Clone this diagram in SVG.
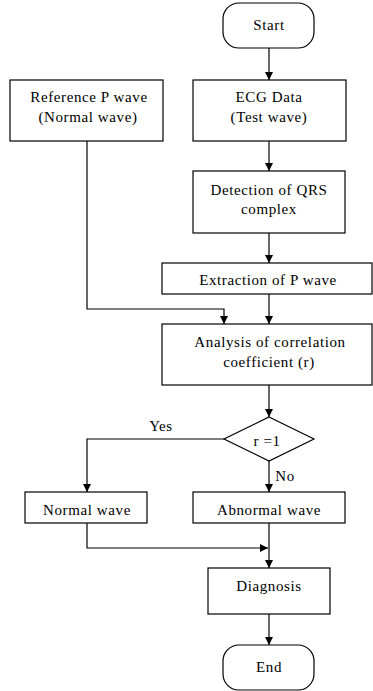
<svg xmlns="http://www.w3.org/2000/svg" width="373" height="691" viewBox="0 0 373 691">
<style>
.box{fill:#fff;stroke:#000;stroke-width:1.2}
.t{font-family:'Liberation Serif','DejaVu Serif',serif;font-size:15px;fill:#000;text-anchor:middle;letter-spacing:0.6px}
.c{fill:none;stroke:#000;stroke-width:1.2}
</style>
<defs>
<marker id="ah" viewBox="0 0 10 10" refX="10" refY="5" markerWidth="8" markerHeight="8" markerUnits="userSpaceOnUse" orient="auto">
<path d="M0,0 L10,5 L0,10 z" fill="#000"/>
</marker>
</defs>
<rect width="373" height="691" fill="#fff"/>
<g id="connectors">
<path class="c" d="M269,48 V80" marker-end="url(#ah)"/>
<path class="c" d="M269,141 V171" marker-end="url(#ah)"/>
<path class="c" d="M269,233 V263" marker-end="url(#ah)"/>
<path class="c" d="M269,294 V324" marker-end="url(#ah)"/>
<path class="c" d="M87,141 V309 H224 V324" marker-end="url(#ah)"/>
<path class="c" d="M269,385 V417" marker-end="url(#ah)"/>
<path class="c" d="M224,439 H87 V492" marker-end="url(#ah)"/>
<path class="c" d="M269,461 V492" marker-end="url(#ah)"/>
<path class="c" d="M87,523 V548 H268" marker-end="url(#ah)"/>
<path class="c" d="M269,523 V568" marker-end="url(#ah)"/>
<path class="c" d="M269,614 V645" marker-end="url(#ah)"/>
<text class="t" x="161" y="431">Yes</text>
<text class="t" x="285" y="481">No</text>
</g>
<g id="start">
<rect class="box" x="223" y="3" width="91" height="45" rx="16" ry="16"/>
<text class="t" x="269" y="30">Start</text>
</g>
<g id="reference">
<rect class="box" x="10" y="80" width="153" height="61"/>
<text class="t" x="89" y="102">Reference P wave</text>
<text class="t" x="88" y="122">(Normal wave)</text>
</g>
<g id="ecg">
<rect class="box" x="193" y="80" width="153" height="61"/>
<text class="t" x="269" y="102">ECG Data</text>
<text class="t" x="269" y="122">(Test wave)</text>
</g>
<g id="detection">
<rect class="box" x="193" y="171" width="152" height="62"/>
<text class="t" x="269" y="195">Detection of QRS</text>
<text class="t" x="269" y="214">complex</text>
</g>
<g id="extraction">
<rect class="box" x="162" y="263" width="210" height="31"/>
<text class="t" x="268" y="285">Extraction of P wave</text>
</g>
<g id="analysis">
<rect class="box" x="162" y="324" width="210" height="61"/>
<text class="t" x="270" y="347">Analysis of correlation</text>
<text class="t" x="269" y="367">coefficient (r)</text>
</g>
<g id="decision">
<polygon class="box" points="269,417 314,439 269,461 224,439"/>
<text class="t" x="267" y="446">r =1</text>
</g>
<g id="normal">
<rect class="box" x="25" y="492" width="122" height="31"/>
<text class="t" x="87" y="515">Normal wave</text>
</g>
<g id="abnormal">
<rect class="box" x="193" y="492" width="152" height="31"/>
<text class="t" x="269" y="515">Abnormal wave</text>
</g>
<g id="diagnosis">
<rect class="box" x="208" y="568" width="122" height="46"/>
<text class="t" x="269" y="591">Diagnosis</text>
</g>
<g id="end">
<rect class="box" x="223" y="645" width="91" height="45" rx="16" ry="16"/>
<text class="t" x="269" y="672">End</text>
</g>
</svg>
